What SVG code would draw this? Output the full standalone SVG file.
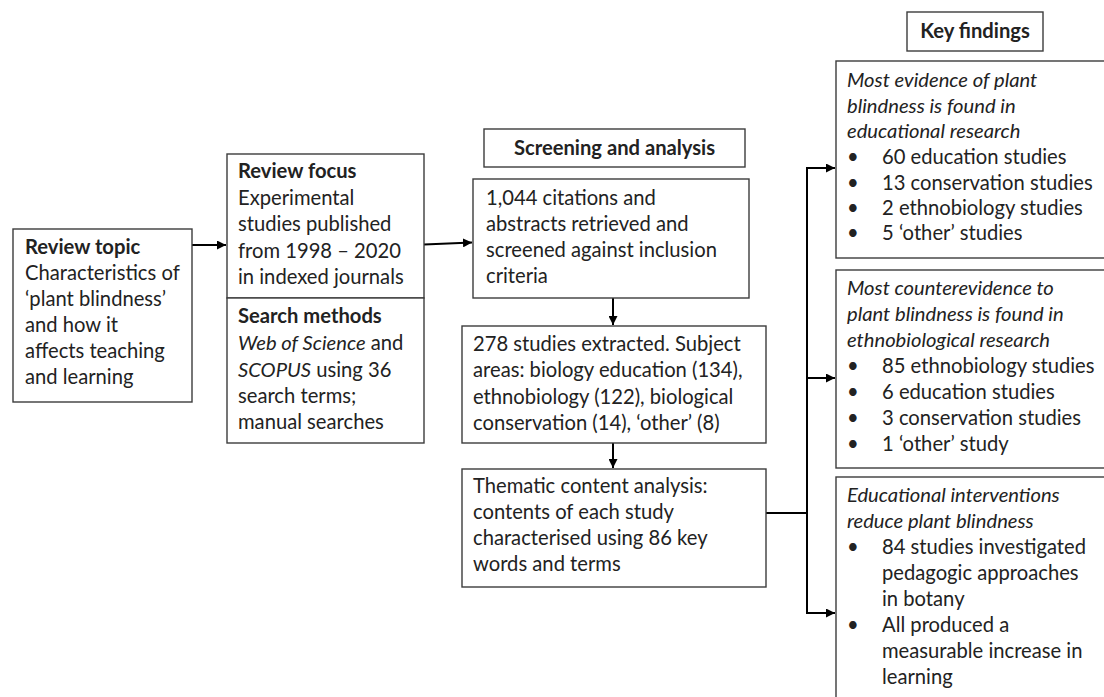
<svg xmlns="http://www.w3.org/2000/svg" width="1104" height="697" viewBox="0 0 1104 697">
<style>
  .box { fill: #ffffff; stroke: #3c3c3c; stroke-width: 1.4; }
  .t { font-family: Lato, "Open Sans", "Liberation Sans", sans-serif; font-size: 20.2px; fill: #222222; }
  .b { font-weight: bold; }
  .i { font-style: italic; }
  .c { text-anchor: middle; }
  .conn { fill: none; stroke: #000000; stroke-width: 2; }
</style>
<defs>
  <marker id="arr" viewBox="0 0 10 10" refX="10" refY="5" markerWidth="4.5" markerHeight="4.5" orient="auto" markerUnits="strokeWidth">
    <path d="M0,0 L10,5 L0,10 Z" fill="#000000"/>
  </marker>
</defs>
<rect x="0" y="0" width="1104" height="697" fill="#ffffff"/>

<g id="connectors">
  <line class="conn" x1="192" y1="245" x2="226" y2="245" marker-end="url(#arr)"/>
  <line class="conn" x1="424" y1="244.5" x2="472" y2="242.5" marker-end="url(#arr)"/>
  <line class="conn" x1="613" y1="298" x2="613" y2="325" marker-end="url(#arr)"/>
  <line class="conn" x1="613" y1="443" x2="613" y2="468" marker-end="url(#arr)"/>
  <polyline class="conn" points="766,513 807,513"/>
  <line class="conn" x1="807" y1="167" x2="807" y2="614"/>
  <line class="conn" x1="806" y1="168" x2="835" y2="168" marker-end="url(#arr)"/>
  <line class="conn" x1="806" y1="378" x2="835" y2="378" marker-end="url(#arr)"/>
  <line class="conn" x1="806" y1="613" x2="835" y2="613" marker-end="url(#arr)"/>
</g>

<g id="review-topic">
  <rect class="box" x="13" y="229" width="179" height="173"/>
  <text class="t b" x="25" y="254">Review topic</text>
  <text class="t" x="25" y="280">Characteristics of</text>
  <text class="t" x="25" y="306">‘plant blindness’</text>
  <text class="t" x="25" y="332">and how it</text>
  <text class="t" x="25" y="358">affects teaching</text>
  <text class="t" x="25" y="384">and learning</text>
</g>

<g id="review-focus">
  <rect class="box" x="227" y="154" width="197" height="144"/>
  <text class="t b" x="238" y="178">Review focus</text>
  <text class="t" x="238" y="205">Experimental</text>
  <text class="t" x="238" y="231">studies published</text>
  <text class="t" x="238" y="258">from 1998 – 2020</text>
  <text class="t" x="238" y="284">in indexed journals</text>
</g>

<g id="search-methods">
  <rect class="box" x="227" y="298" width="197" height="145"/>
  <text class="t b" x="238" y="323">Search methods</text>
  <text class="t" x="238" y="350"><tspan class="i">Web of Science</tspan> and</text>
  <text class="t" x="238" y="377"><tspan class="i">SCOPUS</tspan> using 36</text>
  <text class="t" x="238" y="403">search terms;</text>
  <text class="t" x="238" y="429">manual searches</text>
</g>

<g id="screening-label">
  <rect class="box" x="484" y="129" width="261" height="38"/>
  <text class="t b c" x="614.5" y="155">Screening and analysis</text>
</g>

<g id="citations">
  <rect class="box" x="473" y="179" width="276" height="119"/>
  <text class="t" x="486" y="205">1,044 citations and</text>
  <text class="t" x="486" y="231">abstracts retrieved and</text>
  <text class="t" x="486" y="257">screened against inclusion</text>
  <text class="t" x="486" y="283">criteria</text>
</g>

<g id="studies-extracted">
  <rect class="box" x="462" y="326" width="304" height="117"/>
  <text class="t" x="473" y="351">278 studies extracted. Subject</text>
  <text class="t" x="473" y="377">areas: biology education (134),</text>
  <text class="t" x="473" y="404">ethnobiology (122), biological</text>
  <text class="t" x="473" y="430">conservation (14), ‘other’ (8)</text>
</g>

<g id="thematic-analysis">
  <rect class="box" x="462" y="469" width="304" height="118"/>
  <text class="t" x="473" y="493">Thematic content analysis:</text>
  <text class="t" x="473" y="519">contents of each study</text>
  <text class="t" x="473" y="545">characterised using 86 key</text>
  <text class="t" x="473" y="571">words and terms</text>
</g>

<g id="key-findings-label">
  <rect class="box" x="907" y="12" width="136" height="39"/>
  <text class="t b c" x="975" y="38">Key findings</text>
</g>

<g id="finding-1">
  <rect class="box" x="836" y="61" width="290" height="197"/>
  <text class="t i" x="847" y="87">Most evidence of plant</text>
  <text class="t i" x="847" y="113">blindness is found in</text>
  <text class="t i" x="847" y="138">educational research</text>
  <text class="t" x="847" y="164">•</text><text class="t" x="882" y="164">60 education studies</text>
  <text class="t" x="847" y="190">•</text><text class="t" x="882" y="190">13 conservation studies</text>
  <text class="t" x="847" y="215">•</text><text class="t" x="882" y="215">2 ethnobiology studies</text>
  <text class="t" x="847" y="240">•</text><text class="t" x="882" y="240">5 ‘other’ studies</text>
</g>

<g id="finding-2">
  <rect class="box" x="836" y="270" width="290" height="198"/>
  <text class="t i" x="847" y="295">Most counterevidence to</text>
  <text class="t i" x="847" y="321">plant blindness is found in</text>
  <text class="t i" x="847" y="347">ethnobiological research</text>
  <text class="t" x="847" y="373">•</text><text class="t" x="882" y="373">85 ethnobiology studies</text>
  <text class="t" x="847" y="399">•</text><text class="t" x="882" y="399">6 education studies</text>
  <text class="t" x="847" y="425">•</text><text class="t" x="882" y="425">3 conservation studies</text>
  <text class="t" x="847" y="451">•</text><text class="t" x="882" y="451">1 ‘other’ study</text>
</g>

<g id="finding-3">
  <rect class="box" x="836" y="477" width="290" height="240"/>
  <text class="t i" x="847" y="502">Educational interventions</text>
  <text class="t i" x="847" y="528">reduce plant blindness</text>
  <text class="t" x="847" y="554">•</text><text class="t" x="882" y="554">84 studies investigated</text>
  <text class="t" x="882" y="580">pedagogic approaches</text>
  <text class="t" x="882" y="606">in botany</text>
  <text class="t" x="847" y="632">•</text><text class="t" x="882" y="632">All produced a</text>
  <text class="t" x="882" y="658">measurable increase in</text>
  <text class="t" x="882" y="684">learning</text>
</g>
</svg>
